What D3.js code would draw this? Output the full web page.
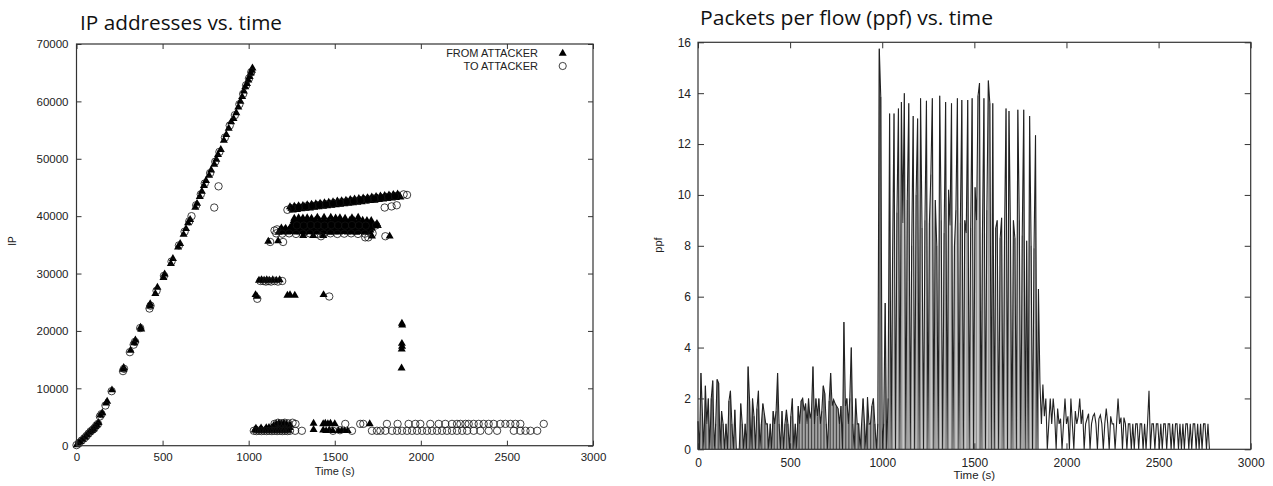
<!DOCTYPE html>
<html>
<head>
<meta charset="utf-8">
<script src="https://cdn.jsdelivr.net/npm/d3@7"></script>
<style>
  body { margin: 0; background: #fff; }
  svg text { font-family: "Liberation Sans", Arial, sans-serif; fill: #222; }
  .title { font-family: "Open Sans", sans-serif; fill: #111; }
</style>
</head>
<body>
<svg id="chart" width="1273" height="486"></svg>
<script>

// ---- left chart: IP addresses vs. time  [time (s), IP index]
var fromAttacker = [
  // ramp up
  [2,150],[10,400],[22,700],[35,1100],[50,1500],[62,1900],[75,2300],[88,2600],[98,2900],[108,3300],
  [118,3600],[128,4000],[138,5300],[150,5700],[172,7400],[178,7700],[206,9700],[272,13300],[274,13600],
  [314,16600],[335,17900],[342,18400],[372,20600],[376,20300],[426,24300],[428,24700],
  [458,26500],[470,27600],[505,29300],[512,29900],[548,31700],[560,32600],[590,34600],[602,35200],
  [622,36800],[636,37800],[648,38800],[660,39400],[690,41500],[700,42200],[716,43400],[728,44300],
  [740,45300],[752,46200],[770,47100],[782,48000],[800,49000],[812,49900],[822,50700],[838,51600],
  [856,53200],[870,54200],[884,55300],[898,56400],[912,57000],[928,58000],[940,59000],[952,60000],
  [962,60800],[972,61800],[980,62500],[990,63100],[998,63700],[1005,64300],[1012,64900],[1018,65400],[1022,65800],
  // scattered middle
  [1040,26300],[1048,26000],[1225,26200],[1240,26300],[1268,26200],[1435,26300],
  [1060,28800],[1075,28900],[1090,28800],[1105,28900],[1120,28800],[1140,28900],[1160,28800],[1180,28900],
  [1114,35600],[1171,35700],
  [1317,36600],[1375,36600],[1433,36600],[1716,36500],[1819,36500],
  // band ~37150
  [1175,37150],[1200,37250],[1225,37200],[1250,37300],[1275,37200],[1300,37250],[1325,37150],[1350,37300],
  [1375,37200],[1400,37250],[1425,37200],[1450,37300],[1475,37150],[1500,37250],[1525,37200],[1550,37300],
  [1575,37200],[1600,37250],[1625,37150],[1650,37300],[1675,37200],[1700,37250],
  // band ~37550
  [1182,37550],[1207,37600],[1232,37500],[1257,37550],[1282,37600],[1307,37550],[1332,37500],[1357,37600],
  [1382,37550],[1407,37550],[1432,37600],[1457,37500],[1482,37550],[1507,37600],[1532,37550],[1557,37500],
  [1582,37600],[1607,37550],[1632,37550],[1657,37600],[1682,37500],[1707,37550],
  // band ~37950
  [1190,37900],[1215,37850],[1240,37950],[1265,37900],[1290,37850],[1315,37950],[1340,37900],[1365,37900],
  [1390,37850],[1415,37950],[1440,37900],[1465,37850],[1490,37950],[1515,37900],[1540,37900],[1565,37850],
  [1590,37950],[1615,37900],[1640,37850],[1665,37950],[1690,37900],[1715,37900],
  // band ~38350
  [1250,38300],[1275,38350],[1300,38400],[1325,38300],[1350,38350],[1375,38400],[1400,38350],[1425,38300],
  [1450,38400],[1475,38350],[1500,38300],[1525,38350],[1550,38400],[1575,38350],[1600,38300],[1625,38400],
  [1650,38350],[1675,38300],[1700,38350],[1725,38400],[1750,38350],
  // band ~38700
  [1260,38700],[1285,38650],[1310,38750],[1335,38700],[1360,38650],[1385,38750],[1410,38700],[1435,38700],
  [1460,38650],[1485,38750],[1510,38700],[1535,38650],[1560,38750],[1585,38700],[1610,38700],[1635,38650],
  [1660,38750],[1685,38700],[1710,38650],[1745,38700],
  // band ~39200
  [1262,39200],[1287,39150],[1312,39250],[1337,39200],[1362,39150],[1387,39250],[1412,39200],[1437,39200],
  [1462,39150],[1487,39250],[1512,39200],[1537,39150],[1562,39250],[1587,39200],[1612,39200],[1637,39150],
  [1662,39250],[1687,39200],[1712,39200],
  // band ~39700
  [1265,39600],[1290,39700],[1315,39650],[1340,39700],[1365,39600],[1399,39800],[1438,39800],[1477,39800],
  [1505,39650],[1530,39700],[1560,39600],[1600,39700],[1636,39800],
  // top band, upper row
  [1240,41600],[1265,41700],[1290,41780],[1315,41850],[1340,41960],[1365,42050],[1390,42150],[1415,42230],
  [1440,42300],[1465,42410],[1490,42500],[1515,42600],[1540,42680],[1565,42750],[1590,42860],[1615,42950],
  [1640,43050],[1665,43130],[1690,43200],[1715,43310],[1740,43400],[1765,43500],[1790,43580],[1815,43650],
  [1840,43760],[1865,43850],
  // top band, middle row
  [1248,41330],[1273,41420],[1298,41500],[1323,41600],[1348,41700],[1373,41780],[1398,41850],[1423,41960],
  [1448,42050],[1473,42150],[1498,42230],[1523,42300],[1548,42410],[1573,42500],[1598,42600],[1623,42680],
  [1648,42750],[1673,42860],[1698,42950],[1723,43050],[1748,43130],[1773,43200],[1798,43310],[1823,43400],
  [1848,43500],[1873,43580],
  // top band, lower row
  [1256,41060],[1281,41150],[1306,41250],[1331,41330],[1356,41400],[1381,41510],[1406,41600],[1431,41700],
  [1456,41780],[1481,41850],[1506,41960],[1531,42050],[1556,42150],[1581,42230],[1606,42300],[1631,42410],
  [1656,42500],[1681,42600],[1706,42680],[1731,42750],[1756,42860],[1781,42950],[1806,43050],[1831,43130],
  [1856,43200],[1881,43310],
  // late burst
  [1890,21300],[1892,21000],[1890,17800],[1891,17300],[1889,16800],[1888,13500],
  // low band
  [1035,2700],[1050,2650],[1065,2700],[1080,2650],[1095,2700],[1110,2650],[1125,2700],[1140,2650],
  [1155,2700],[1170,2650],[1185,2700],[1200,2650],[1215,2700],[1230,2650],
  [1042,3000],[1072,3050],[1102,3100],[1118,3150],[1133,3100],[1148,3150],[1163,3100],[1178,3150],
  [1193,3100],[1208,3150],[1223,3100],[1238,3150],
  [1145,3500],[1160,3700],[1175,3900],[1190,3800],[1205,3900],[1220,3700],[1240,3600],
  [1377,3900],[1377,2800],[1433,3800],[1445,3900],[1460,3800],[1475,3900],[1500,3800],
  [1433,2700],[1450,2600],[1468,2700],[1488,2600],[1522,2600],[1540,2600],[1557,2600],[1575,2600],[1703,3800]
];

var toAttacker = [
  // ramp up
  [0,100],[15,500],[30,900],[45,1300],[58,1700],[70,2100],[82,2500],[95,2800],[105,3100],[115,3500],
  [125,3800],[136,5100],[145,5500],[168,7000],[204,9500],[270,13000],[276,13400],[310,16300],[332,17600],
  [340,18100],[370,20500],[424,23900],[430,24400],[465,27000],[508,29600],[552,32100],[595,34900],
  [628,37300],[655,39100],[668,40000],[695,41900],[722,43800],[745,45700],[776,47500],[806,49500],
  [830,51200],[862,53700],[890,55800],[920,57600],[946,59500],[968,61300],[985,62800],[1002,64000],[1015,65100],
  [800,41500],[825,45200],
  // scattered middle
  [1050,25600],[1468,26000],
  [1068,28700],[1085,28700],[1100,28600],[1115,28700],[1130,28600],[1150,28700],[1170,28600],[1195,28700],
  [1125,35500],[1200,35500],[1420,36500],[1677,36300],[1695,36300],[1794,36500],
  // bands
  [1160,37000],[1195,36950],[1235,37000],[1275,36900],[1315,36950],[1355,37000],[1395,36900],[1435,36950],
  [1475,37000],[1515,36900],[1555,36950],[1595,37000],[1635,36900],[1675,36950],[1720,37000],
  [1150,37500],[1165,37700],
  [1280,38400],[1320,38350],[1360,38450],[1400,38400],[1440,38350],[1480,38450],[1520,38400],[1560,38350],
  [1600,38450],[1640,38400],[1680,38350],[1740,38400],
  [1225,41100],[1250,41350],[1290,41500],[1330,41650],[1370,41780],[1410,41930],[1450,42050],[1490,42200],
  [1530,42350],[1570,42480],[1610,42620],[1650,42780],[1690,42900],[1730,43050],[1770,43200],[1810,43350],
  [1850,43480],[1900,43800],[1920,43700],[1790,41500],[1830,41700],[1860,41900],
  // low band
  [1030,2600],[1045,2550],[1060,2600],[1075,2550],[1090,2600],[1105,2550],[1120,2600],[1135,2550],
  [1150,2600],[1165,2550],[1180,2600],[1195,2550],[1210,2600],[1225,2550],[1240,2600],[1270,2600],[1309,2600],
  [1150,3800],[1170,4000],[1190,3900],[1210,4000],[1230,3900],[1255,4000],[1272,3800],
  [1490,2600],[1530,2700],[1561,3800],[1600,2600],[1648,3800],[1666,3800],
  [1716,2600],[1745,2600],[1765,2600],[1794,2600],[1833,2600],[1862,2600],[1891,2600],[1920,2600],
  [1949,2600],[1978,2600],[2007,2600],[2036,2600],[2065,2600],[2094,2600],[2123,2600],[2152,2600],
  [2181,2600],[2210,2600],[2240,2600],[2269,2600],[2307,2600],[2346,2600],[2394,2600],[2443,2600],
  [2540,2600],[2578,2600],[2608,2600],[2637,2600],[2676,2600],
  [1803,3800],[1865,3800],[1929,3800],[1968,3800],[1997,3800],[2055,3800],[2104,3800],[2142,3800],
  [2181,3800],[2210,3800],[2230,3800],[2259,3800],[2278,3800],[2307,3800],[2336,3800],[2365,3800],
  [2394,3800],[2423,3800],[2462,3800],[2491,3800],[2520,3800],[2549,3800],[2578,3800],[2714,3800]
];

var ipXTicks = [0, 500, 1000, 1500, 2000, 2500, 3000];
var ipYTicks = [0, 10000, 20000, 30000, 40000, 50000, 60000, 70000];
var legendLabels = ["FROM ATTACKER", "TO ATTACKER"];

// ---- right chart: packets per flow, one sample every ppfStep seconds
var ppfStep = 8;
var ppf = [
  1.1, 0, 3.0, 1.4, 0, 2.5, 1.0, 2.0, 0, 2.0,          // 0 s
  2.7, 0, 1.0, 2.75, 2.6, 0, 1.5, 1.0, 0, 1.0,         // 80
  0, 1.9, 2.3, 1.0, 0, 1.55, 0, 0, 0, 1.8,             // 160
  1.0, 0, 1.0, 0, 3.25, 1.9, 0, 2.0, 1.3, 0,           // 240
  1.6, 2.3, 0, 1.0, 1.8, 1.4, 1.0, 1.0, 0, 1.0,        // 320
  0, 1.5, 1.0, 1.5, 3.0, 1.0, 0, 1.5, 0, 1.0,          // 400
  1.55, 1.0, 0, 1.3, 2.0, 0, 1.0, 0, 1.7, 1.0,         // 480
  1.9, 2.0, 1.5, 1.8, 1.0, 2.0, 1.2, 1.5, 3.25, 1.0,   // 560
  2.0, 1.3, 2.0, 1.0, 1.5, 2.5, 2.2, 1.0, 0, 1.9,      // 640
  3.0, 1.7, 1.95, 1.8, 1.7, 1.6, 1.0, 1.7, 0, 5.0,     // 720
  1.7, 2.0, 1.0, 2.0, 4.0, 1.0, 0, 2.0, 1.0, 1.0,      // 800
  0, 1.0, 2.0, 1.0, 0, 2.05, 1.0, 1.0, 1.7, 2.0,       // 880
  1.0, 0, 1.0, 15.75, 13.85, 0, 1.0, 5.75, 0, 2.0,     // 960
  13.2, 0, 7.4, 13.2, 0, 9.3, 13.4, 0, 13.65, 8.9,     // 1040
  14.0, 0, 9.8, 13.6, 0, 8.0, 13.1, 0, 10.0, 13.0,     // 1120
  0, 13.8, 8.7, 0, 9.0, 13.7, 0, 8.9, 10.8, 13.8,      // 1200
  0, 9.8, 8.0, 0, 13.9, 9.0, 0, 8.5, 13.65, 0,         // 1280
  10.2, 8.8, 13.6, 0, 8.0, 9.4, 13.8, 0, 8.9, 13.73,   // 1360
  0, 9.0, 8.5, 13.73, 0, 8.7, 13.8, 0, 10.3, 9.0,      // 1440
  13.9, 14.4, 0, 8.5, 13.8, 0, 9.4, 14.5, 13.6, 0,     // 1520
  13.6, 0, 8.7, 9.0, 0, 8.3, 9.1, 0, 8.5, 13.4,        // 1600
  0, 13.3, 8.6, 0, 9.0, 8.3, 0, 13.35, 9.0, 0,         // 1680
  8.4, 13.35, 0, 8.2, 0, 13.1, 8.0, 0, 7.9, 12.35,     // 1760
  0, 6.3, 2.6, 1.0, 2.55, 1.3, 2.0, 0, 1.0, 2.0,       // 1840
  1.0, 2.0, 1.3, 0, 1.6, 1.0, 1.2, 0, 1.0, 2.0,        // 1920
  1.0, 1.3, 0, 2.0, 1.0, 0, 1.5, 1.0, 1.3, 2.0,        // 2000
  1.0, 1.55, 0, 1.0, 1.2, 1.4, 0, 1.0, 1.3, 1.4,       // 2080
  1.0, 0, 1.2, 1.35, 1.0, 0, 1.0, 1.6, 1.0, 0,         // 2160
  1.3, 1.0, 1.0, 0, 1.0, 2.0, 1.0, 1.25, 0, 1.25,      // 2240
  1.0, 0, 1.0, 1.0, 0, 1.0, 0, 1.0, 1.0, 0,            // 2320
  1.0, 1.0, 0, 1.0, 0, 1.0, 2.3, 0, 1.0, 1.0,          // 2400
  0, 1.0, 1.0, 0, 1.0, 0, 1.0, 1.0, 0, 1.0,            // 2480
  1.0, 0, 1.0, 0, 1.0, 1.0, 0, 1.0, 0, 1.0,            // 2560
  0, 1.0, 1.0, 0, 1.0, 0, 1.0, 1.0, 0, 1.0,            // 2640
  0, 1.0, 0, 1.0, 1.0, 0, 1.0, 0                       // 2720
];

var ppfXTicks = [0, 500, 1000, 1500, 2000, 2500, 3000];
var ppfYTicks = [0, 2, 4, 6, 8, 10, 12, 14, 16];

var svg = d3.select("#chart");

// gnuplot-ish frame: inward ticks on all four sides, labels bottom + left
function frame(g, x, y, xt, yt, tick, xPad, yPad, fontSize) {
  var x0 = x.range()[0], x1 = x.range()[1], y0 = y.range()[0], y1 = y.range()[1];
  var fmt = d3.format("d");

  var bottom = g.append("g").attr("transform", "translate(0," + y0 + ")")
    .call(d3.axisBottom(x).tickValues(xt).tickFormat(fmt).tickSizeInner(-tick).tickSizeOuter(0).tickPadding(xPad));
  var top = g.append("g").attr("transform", "translate(0," + y1 + ")")
    .call(d3.axisTop(x).tickValues(xt).tickSizeInner(-tick).tickSizeOuter(0).tickFormat(""));
  var left = g.append("g").attr("transform", "translate(" + x0 + ",0)")
    .call(d3.axisLeft(y).tickValues(yt).tickFormat(fmt).tickSizeInner(-tick).tickSizeOuter(0).tickPadding(yPad));
  var right = g.append("g").attr("transform", "translate(" + x1 + ",0)")
    .call(d3.axisRight(y).tickValues(yt).tickSizeInner(-tick).tickSizeOuter(0).tickFormat(""));

  [bottom, top, left, right].forEach(function(a){
    a.select(".domain").remove();
    a.selectAll("line").attr("stroke", "#333").attr("stroke-width", 1);
    a.selectAll("text").attr("font-family", null).style("font-size", fontSize + "px").attr("fill", "#222");
  });

  g.append("rect")
    .attr("x", x0).attr("y", y1)
    .attr("width", x1 - x0).attr("height", y0 - y1)
    .attr("fill", "none").attr("stroke", "#333").attr("stroke-width", 1.2);
}

// ---------------- left ----------------
var xL = d3.scaleLinear().domain([0, 3000]).range([76.5, 593]);
var yL = d3.scaleLinear().domain([0, 70000]).range([445.7, 44]);

var left = svg.append("g");
left.append("text").attr("class", "title").attr("x", 80).attr("y", 30)
  .attr("textLength", 202).attr("lengthAdjust", "spacingAndGlyphs")
  .style("font-size", "20px").text("IP addresses vs. time");

var tri = d3.symbol().type(d3.symbolTriangle).size(28);

left.append("g").selectAll("path").data(fromAttacker).join("path")
  .attr("d", tri)
  .attr("transform", function(d){ return "translate(" + xL(d[0]) + "," + yL(d[1]) + ")"; })
  .attr("fill", "#000");

left.append("g").selectAll("circle").data(toAttacker).join("circle")
  .attr("cx", function(d){ return xL(d[0]); })
  .attr("cy", function(d){ return yL(d[1]); })
  .attr("r", 3.7)
  .attr("fill", "none").attr("stroke", "#111").attr("stroke-width", 0.8);

frame(left, xL, yL, ipXTicks, ipYTicks, 5, 7, 8, 11.5);

left.append("text").attr("x", xL(1500)).attr("y", 475).attr("text-anchor", "middle")
  .style("font-size", "11px").text("Time (s)");
left.append("text").attr("transform", "translate(16,241) rotate(-90)").attr("text-anchor", "middle")
  .style("font-size", "10px").text("IP");

// legend
var leg = left.append("g");
leg.selectAll("text").data(legendLabels).join("text")
  .attr("x", 538).attr("y", function(d, i){ return 57 + i * 12.6; })
  .attr("text-anchor", "end").style("font-size", "11px").text(function(d){ return d; });
leg.append("path").attr("d", tri).attr("transform", "translate(562.7,53.5)").attr("fill", "#000");
leg.append("circle").attr("cx", 562.7).attr("cy", 66).attr("r", 3.6)
  .attr("fill", "none").attr("stroke", "#111").attr("stroke-width", 0.8);

// ---------------- right ----------------
var xR = d3.scaleLinear().domain([0, 3000]).range([698, 1250.7]);
var yR = d3.scaleLinear().domain([0, 16]).range([449.3, 42.3]);

var right = svg.append("g");
right.append("text").attr("class", "title").attr("x", 700).attr("y", 25)
  .attr("textLength", 293).attr("lengthAdjust", "spacingAndGlyphs")
  .style("font-size", "20px").text("Packets per flow (ppf) vs. time");

// before the attack ends the trace is so dense it reads as a grey fill
var denseTo = 1850, attackFrom = 1040;
right.append("g").selectAll("line")
  .data(ppf.map(function(v, i){ return [i * ppfStep, v]; })
           .filter(function(d){ return d[0] <= denseTo && d[1] > 0; }))
  .join("line")
  .attr("x1", function(d){ return xR(d[0]); }).attr("x2", function(d){ return xR(d[0]); })
  .attr("y1", yR(0)).attr("y2", function(d){ return yR(d[1]); })
  .attr("stroke", function(d){ return d[0] >= attackFrom ? "#8a8a8a" : "#444"; })
  .attr("stroke-width", 1);

var line = d3.line()
  .x(function(d, i){ return xR(i * ppfStep); })
  .y(function(d){ return yR(d); });

right.append("path").datum(ppf)
  .attr("d", line)
  .attr("fill", "none").attr("stroke", "#222").attr("stroke-width", 1.1);

frame(right, xR, yR, ppfXTicks, ppfYTicks, 6, 9, 7, 12);

right.append("text").attr("x", xR(1500)).attr("y", 479).attr("text-anchor", "middle")
  .style("font-size", "11.5px").text("Time (s)");
right.append("text").attr("transform", "translate(662,245) rotate(-90)").attr("text-anchor", "middle")
  .style("font-size", "11px").text("ppf");

</script>
</body>
</html>
